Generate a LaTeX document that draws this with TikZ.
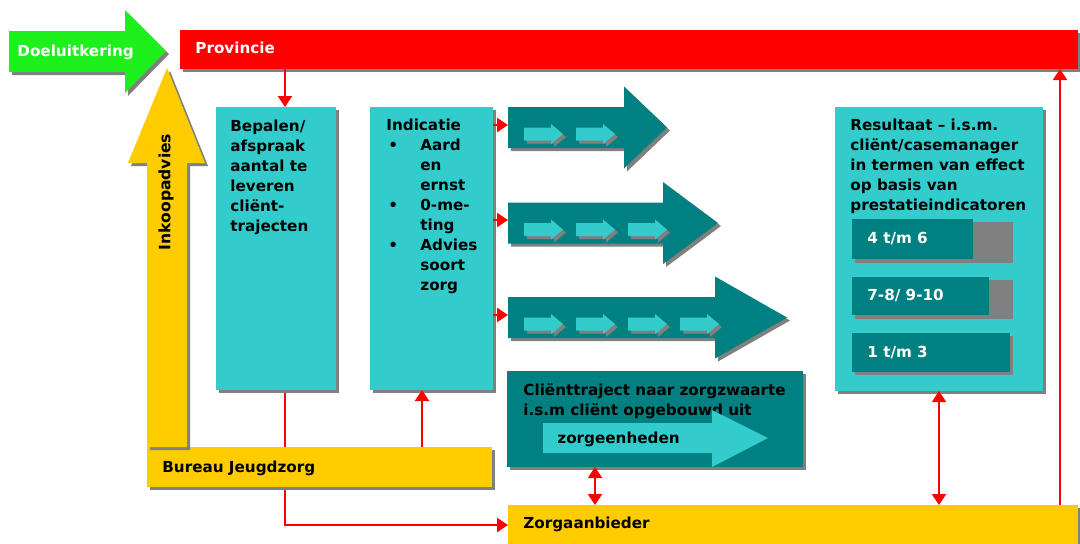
\documentclass[tikz,border=0pt]{standalone}
\usepackage{fontspec}
\setmainfont{DejaVu Sans}
\usetikzlibrary{arrows.meta,shadows}
\definecolor{cgreen}{RGB}{30,240,30}
\definecolor{cred}{RGB}{255,0,0}
\definecolor{cyel}{RGB}{255,204,0}
\definecolor{ccyan}{RGB}{51,204,204}
\definecolor{cteal}{RGB}{0,128,128}
\definecolor{cshad}{RGB}{128,128,128}
\pgfdeclarelayer{bg}
\pgfsetlayers{bg,main}
\newcommand\pxbox[6]{\node[#6, minimum width={(#4-#2)*0.5pt}, minimum height={(#5-#3)*0.5pt}] (#1) at ({(#2+#4)/2},{(#3+#5)/2}) {};}
\newcommand\TealArrow[4]{\fill[cteal,shad] (#1,{#4-20.5}) -- (#2,{#4-20.5}) -- (#2,{#4-41}) -- (#3,#4) -- (#2,{#4+41}) -- (#2,{#4+20.5}) -- (#1,{#4+20.5}) -- cycle;}
\newcommand\MiniArrow[2]{\fill[ccyan,shad] (#1,{#2-6.5}) -- ({#1+27},{#2-6.5}) -- ({#1+27},{#2-10}) -- ({#1+39},#2) -- ({#1+27},{#2+10}) -- ({#1+27},{#2+6.5}) -- (#1,{#2+6.5}) -- cycle;}
\tikzset{
  shad/.style={drop shadow={shadow xshift=1.5pt,shadow yshift=-1.5pt,fill=cshad,opacity=1}},
  blk/.style={rectangle, inner sep=0pt, outer sep=0pt},
  cbox/.style={blk, fill=ccyan, shad},
  tbox/.style={blk, fill=cteal, shad},
  ybox/.style={blk, fill=cyel, shad},
  rbox/.style={blk, fill=cred, shad},
  lbl/.style={inner sep=0pt, anchor=north west, font=\fontsize{7.6}{10}\selectfont\bfseries, align=left},
  wlbl/.style={lbl, text=white},
  link/.style={draw=cred, line width=1pt, -{Triangle[width=7pt,length=5.5pt]}},
  link2/.style={draw=cred, line width=1pt, {Triangle[width=7pt,length=5.5pt]}-{Triangle[width=7pt,length=5.5pt]}},
}
\begin{document}
\begin{tikzpicture}[x=0.5pt,y=-0.5pt]
\useasboundingbox (0,0) rectangle (1080,543);
\begin{pgfonlayer}{bg}
\fill[white] (0,0) rectangle (1080,543);
\end{pgfonlayer}

% green arrow
\fill[cgreen,shad] (9,31) -- (125,31) -- (125,10) -- (166,51) -- (125,93) -- (125,72) -- (9,72) -- cycle;
\node[wlbl] (doel) at (17,44.5) {Doeluitkering};

% Provincie
\pxbox{prov}{180}{30}{1078}{69}{rbox}
\node[wlbl] (provt) at (195,41.5) {Provincie};

% boxes
\pxbox{bep}{216}{107}{336}{390}{cbox}
\node[lbl] (bept) at (230,119.5) {Bepalen/\\afspraak\\aantal te\\leveren\\cliënt-\\trajecten};

\pxbox{ind}{370}{107}{493}{390}{cbox}
\node[lbl] (indt) at (386,118.5) {Indicatie\\
\makebox[17pt][l]{\hspace{1pt}\textbullet}Aard\\
\hspace*{17pt}en\\
\hspace*{17pt}ernst\\
\makebox[17pt][l]{\hspace{1pt}\textbullet}0-me-\\
\hspace*{17pt}ting\\
\makebox[17pt][l]{\hspace{1pt}\textbullet}Advies\\
\hspace*{17pt}soort\\
\hspace*{17pt}zorg};

% Resultaat
\pxbox{res}{835}{107}{1043}{391}{cbox}
\node[lbl] (rest) at (850,118.5) {Resultaat – i.s.m.\\cliënt/casemanager\\in termen van effect\\op basis van\\prestatieindicatoren};
\fill[cshad] (855,222) rectangle (1013,263);
\pxbox{r1}{852}{219}{973}{259}{blk,fill=cteal}
\node[wlbl] (r1t) at (867,231.5) {4 t/m 6};
\fill[cshad] (855,280) rectangle (1013,319);
\pxbox{r2}{852}{277}{989}{315}{blk,fill=cteal}
\node[wlbl] (r2t) at (867,288.5) {7-8/ 9-10};
\pxbox{r3}{852}{333}{1010}{372}{tbox}
\node[wlbl] (r3t) at (867,345.5) {1 t/m 3};

% big teal arrows
\TealArrow{508}{624}{667}{127.5}
\MiniArrow{524}{134}
\MiniArrow{576}{134}
\coordinate (a1) at (508,125);
\TealArrow{508}{663}{718}{223}
\MiniArrow{524}{229.5}
\MiniArrow{576}{229.5}
\MiniArrow{628}{229.5}
\coordinate (a2) at (508,220);
\TealArrow{508}{715}{787}{317.5}
\MiniArrow{524}{324}
\MiniArrow{576}{324}
\MiniArrow{628}{324}
\MiniArrow{680}{324}
\coordinate (a3) at (508,315);

% Clienttraject
\pxbox{cli}{507}{371}{803}{467}{tbox}
\node[lbl] (clit) at (523,383.5) {Cliënttraject naar zorgzwaarte\\i.s.m cliënt opgebouwd uit};
\fill[ccyan] (543,423) -- (712,423) -- (712,410) -- (768,438) -- (712,467) -- (712,453) -- (543,453) -- cycle;
\node[lbl] (zeh) at (557,431.5) {zorgeenheden};

% Bureau Jeugdzorg + Inkoopadvies arrow
\pxbox{bur}{147}{447}{492}{487}{ybox}
\node[lbl] (burt) at (162,460.5) {Bureau Jeugdzorg};
\fill[cyel,shad] (147,447) -- (147,163) -- (128,163) -- (167,68) -- (205,163) -- (187,163) -- (187,447) -- cycle;
\node[inner sep=0pt, rotate=90, font=\fontsize{7.8}{10}\selectfont\bfseries] (ink) at (166,192) {Inkoopadvies};

% Zorgaanbieder
\pxbox{zorg}{508}{505}{1078}{545}{ybox}
\node[lbl] (zorgt) at (523,516.5) {Zorgaanbieder};

% connectors
\coordinate (xA) at (285,0);
\coordinate (xB) at (422,0);
\coordinate (xC) at (595,0);
\coordinate (xD) at (1060,0);
\draw[link] (prov.south -| xA) -- (bep.north -| xA);
\begin{pgfonlayer}{bg}
\draw[link] (bep.south -| xA) |- (zorg.west);
\end{pgfonlayer}
\draw[link] (bur.north -| xB) -- (ind.south -| xB);
\draw[link] (ind.east |- a1) -- (a1);
\draw[link] (ind.east |- a2) -- (a2);
\draw[link] (ind.east |- a3) -- (a3);
\draw[link2] (cli.south -| xC) -- (zorg.north -| xC);
\draw[link2] (res.south) -- (zorg.north -| res.south);
\draw[link] (zorg.north -| xD) -- (prov.south -| xD);
\end{tikzpicture}
\end{document}
